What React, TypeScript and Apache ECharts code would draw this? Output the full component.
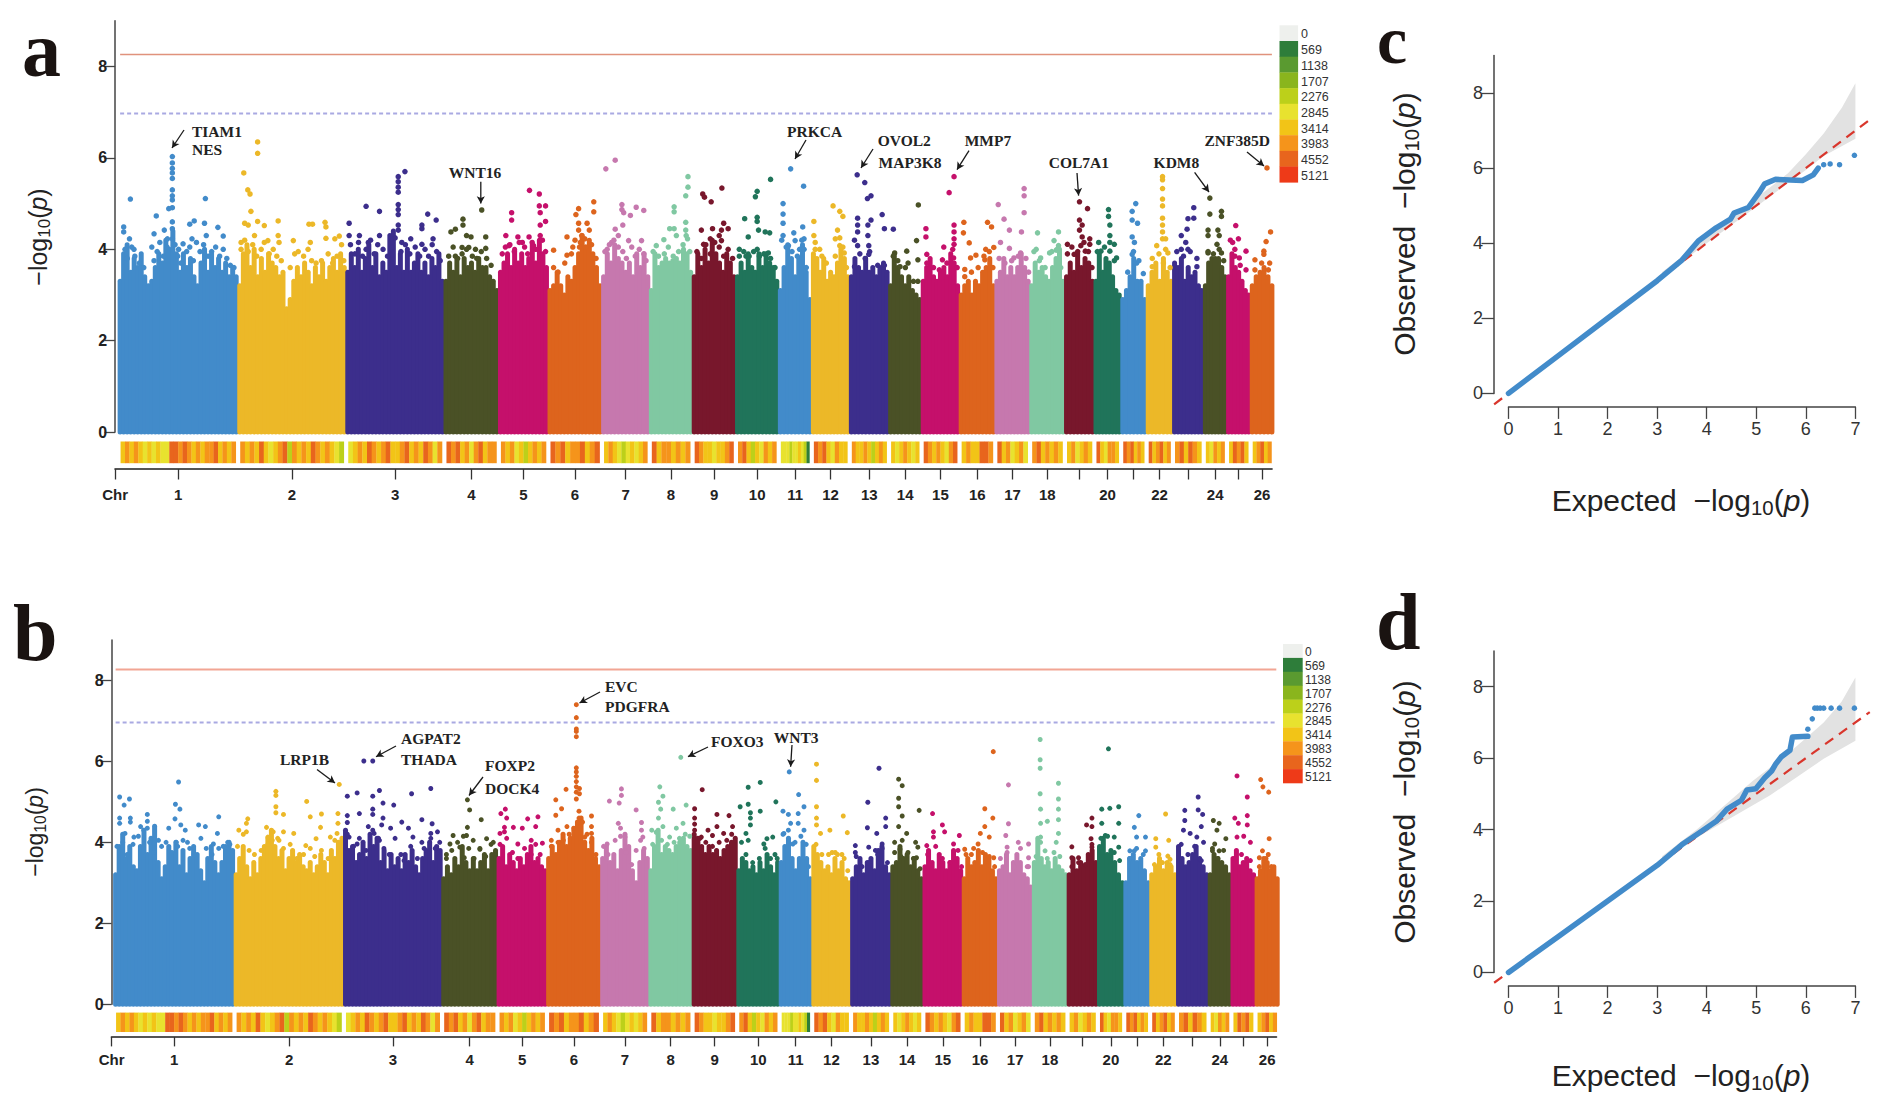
import React, { useEffect, useRef } from "react";
import * as echarts from "echarts";

// chromosome names and colours, the palette repeats every ten chromosomes
const chromLabels = ["1","2","3","4","5","6","7","8","9","10","11","12","13","14","15","16","17","18","19","20","21","22","23","24","25","26"];
const hiddenChromLabels = ["19", "21", "23", "25"];
const chromPalette = ["#428bca","#ecb828","#3c2e8c","#4a5126","#c5106b","#dd641d","#c678ae","#80c8a2","#78172c","#20745a"];

// genome axis, estimated chromosome lengths
const chromLengthsA = [268,242,220,122,111,120,107,96,97,96,74,85,88,73,85,80,78,78,66,60,57,59,69,52,53,52];
const chromLengthsB = [270,245,220,124,111,121,108,97,100,95,73,87,90,72,88,79,78,78,68,59,58,60,71,51,54,53];
const genomeStartA = 265;
const genomeStartB = 255;
const laterChromShift = 1456; // point positions of chr 9+ are kept relative to this

const yTicks = [0, 2, 4, 6, 8];
const thresholdsA = { strict: 8.26, suggestive: 6.97 };
const thresholdsB = { strict: 8.27, suggestive: 6.96 };

// top of the dense band of every chromosome, evenly spaced along it
const denseTopA = [
  [3.3,3.9,4.1,3.5,3.8,3.6,3.9,3.4,3.2,3.3,3.6,3.9,3.7,4.2,4.0,4.4,3.9,3.5,3.9,3.6,3.8,3.4,3.2,3.7,4.0,3.5,3.9,3.6,3.8,3.5,3.7,3.4,3.6,3.4],
  [3.2,3.9,4.1,3.6,4.0,3.4,3.8,3.5,3.9,3.7,3.6,3.4,3.5,2.7,2.9,3.3,3.6,3.4,3.7,3.5,3.2,3.6,3.4,3.7,3.3,3.6,3.8,3.5,3.9,3.6],
  [3.5,3.9,3.6,4.0,3.5,3.8,4.1,3.6,3.9,3.4,3.7,3.5,4.3,4.4,3.6,3.9,3.5,4.0,3.5,3.7,3.9,3.5,3.7,3.4,3.8,3.6,3.9,3.3],
  [3.3,3.7,3.5,3.8,3.4,3.8,3.6,3.7,3.5,3.8,3.6,3.6,3.4,3.3,3.1],
  [3.5,3.7,3.9,3.6,4.0,3.7,3.9,3.6,3.8,4.1,3.7,4.2,3.9,3.6],
  [3.1,3.2,3.5,3.2,3.0,3.4,3.3,3.6,3.9,4.3,4.0,4.2,3.9,3.6,3.2],
  [3.4,3.9,3.7,4.1,3.8,3.7,3.5,3.7,3.4,3.9,3.6,3.9,3.4],
  [3.1,3.9,3.6,3.7,3.8,3.7,3.75,3.8,3.7,4.0,3.9,3.5],
  [3.4,3.9,3.6,4.0,3.7,4.2,3.9,3.7,3.5,3.9,3.7,3.4],
  [3.4,3.7,3.5,3.9,3.6,3.5,3.9,3.6,3.9,3.7,3.6,3.3],
  [3.1,3.6,4.1,3.8,3.4,3.8,4.1,3.5,2.9],
  [3.9,3.8,3.5,3.8,3.3,3.5,3.4,3.7,4.0,3.8,3.4],
  [3.4,3.8,3.6,3.5,3.8,3.5,3.6,3.4,3.6,3.7,3.5],
  [3.2,3.9,3.6,3.4,3.2,3.4,3.1,3.0,2.9],
  [3.3,3.6,3.8,3.4,3.3,3.5,3.6,3.4,3.9,3.7,3.2],
  [3.0,3.2,3.3,3.0,3.3,3.2,3.5,3.6,3.8,3.2],
  [3.3,3.5,3.8,3.4,3.6,3.4,3.6,3.9,3.6,3.3],
  [3.2,3.7,3.5,3.6,3.4,3.3,3.6,3.8,4.0,3.3],
  [3.4,3.7,3.5,3.9,3.6,3.8,3.7,3.3],
  [3.3,3.9,3.5,3.8,3.7,3.4,3.1,3.0],
  [2.9,3.1,3.4,3.8,3.3,3.3,2.9],
  [3.2,3.5,3.7,3.3,3.8,3.5,3.3],
  [3.7,3.6,3.8,3.3,3.6,3.4,3.5,3.2,3.1],
  [3.2,3.7,3.8,3.8,3.8,3.6,3.4],
  [3.4,3.9,3.6,3.5,3.3,3.1,3.0],
  [3.2,3.4,3.5,3.6,3.4,3.2],
];
const denseTopB = [
  [3.2,3.9,4.2,3.6,3.9,3.4,3.3,3.9,4.3,3.7,4.1,4.4,3.5,3.1,3.4,3.9,3.7,4.0,3.4,3.8,3.2,3.6,3.9,3.7,3.3,3.0,3.6,3.9,3.5,3.2,3.5,3.9,4.0,3.8],
  [3.2,3.6,3.9,3.4,3.1,3.5,3.2,3.6,3.9,4.1,4.3,3.9,3.6,3.8,3.3,3.6,3.8,3.5,3.7,3.4,3.3,3.5,3.2,3.4,3.7,3.5,3.2,3.8,3.6,4.0,4.1],
  [4.3,3.8,3.9,3.5,3.7,4.0,3.6,4.2,3.9,4.1,3.5,3.8,3.3,3.7,3.4,3.6,3.3,3.7,3.5,3.8,3.4,3.2,3.6,3.8,4.0,3.5,3.9,3.8],
  [3.1,3.4,3.2,3.6,3.4,3.9,3.5,3.3,3.6,3.3,3.5,3.7,3.3,3.7,3.8],
  [3.6,3.9,3.4,3.7,3.5,3.3,3.6,3.4,3.7,3.9,3.5,3.6,3.4,3.3],
  [3.6,3.9,3.7,4.0,4.2,3.9,4.1,4.3,4.5,4.6,4.0,3.8,4.1,3.6,3.4],
  [3.6,3.9,3.5,3.7,3.3,3.8,4.2,3.9,3.3,3.0,3.5,3.8,3.6],
  [3.3,3.9,4.3,3.7,3.9,3.8,3.7,3.9,4.0,4.1,3.9,3.8],
  [4.2,4.1,3.9,3.7,3.9,3.7,3.8,3.6,3.8,3.9,4.0,4.1],
  [3.3,3.6,3.5,3.3,3.4,3.2,3.5,3.3,3.7,3.4,3.2,3.5],
  [3.5,3.9,4.1,3.6,3.3,3.6,4.0,3.6,3.1],
  [3.9,3.7,3.5,3.3,3.4,3.2,3.6,3.3,3.5,3.1,3.0],
  [3.1,3.4,3.6,3.2,3.5,3.6,3.3,3.8,3.9,3.4,3.2],
  [3.4,3.5,3.9,3.6,3.7,3.4,3.6,3.3,3.1],
  [3.4,3.8,3.5,3.3,3.7,3.5,3.3,3.5,3.8,3.6,3.3],
  [3.1,3.6,3.4,3.5,3.8,3.4,3.7,3.6,3.3,3.1],
  [3.3,3.4,3.7,3.2,3.5,3.7,3.5,3.2,3.1,2.9],
  [3.5,4.1,3.6,3.4,3.5,3.3,3.6,3.4,3.3,3.2],
  [3.2,3.6,3.3,3.5,3.4,3.7,3.8,3.5],
  [3.9,4.1,3.7,3.8,3.5,3.2,3.0],
  [3.0,3.6,3.7,3.5,3.6,3.3,3.0],
  [3.2,3.4,3.6,3.3,3.5,3.4,3.2],
  [3.9,3.6,3.4,3.5,3.7,3.9,3.6,3.4,3.2],
  [3.2,3.7,3.6,3.5,3.4,3.2],
  [3.6,3.8,3.4,3.5,3.6,3.3,3.2],
  [3.1,3.3,3.6,3.5,3.3,3.4,3.1],
];

// single SNPs above the dense band, flat position,value lists per chromosome
const peaksA = [
  [292,5.1,277,4.49,277,4.38,290,4.23,300,4.0,350,4.73,345,4.34,368,4.42,375,4.23,386,6.03,386,5.89,386,5.77,386,5.67,386,5.55,386,5.3,386,5.17,386,5.08,386,4.91,378,4.89,386,4.6,386,4.45,386,4.23,425,4.55,435,4.62,460,5.11,458,4.57,488,4.48,462,4.3,500,4.29,430,4.23,440,4.15,400,4.0],
  [577,6.35,577,6.1,546,5.67,555,5.3,560,5.21,562,4.83,548,4.57,556,4.53,577,4.61,592,4.52,623,4.62,692,4.55,700,4.55,728,4.59,730,4.49,623,4.3,600,4.19,570,4.3,657,4.19,695,4.15,760,4.29,730,4.24,750,4.23,540,4.15,625,4.15],
  [782,4.57,820,4.94,850,4.83,892,5.59,892,5.48,892,5.36,892,5.25,892,4.98,892,4.87,892,4.76,892,4.53,892,4.42,907,5.7,958,4.77,977,4.64,945,4.53,945,4.45,782,4.3,805,4.3,850,4.3,920,4.23,970,4.23,900,4.15,825,4.15,945,4.11],
  [1037,4.66,1010,4.38,1020,4.44,1037,4.53,1045,4.3,1055,4.27,1088,4.27,1079,4.86,1035,4.04,1065,4.0,1088,4.02,1050,4.04,1020,3.85],
  [1186,5.29,1208,5.21,1146,4.8,1146,4.64,1208,4.95,1222,4.95,1210,4.8,1222,4.61,1210,4.53,1133,4.3,1160,4.27,1185,4.27,1210,4.3,1170,4.15,1140,4.08,1195,4.08],
  [1330,5.04,1296,4.89,1330,4.82,1290,4.76,1296,4.57,1315,4.57,1270,4.27,1240,3.98,1270,3.87,1296,4.42,1320,4.42,1310,4.23,1300,4.15],
  [1378,5.95,1357,5.76,1393,4.98,1393,4.87,1425,4.92,1442,4.85,1412,4.74,1397,4.8,1378,4.44,1395,4.53,1385,4.3,1408,4.19,1437,4.19,1360,4.0,1370,4.15],
  [1541,5.59,1541,5.36,1536,5.17,1510,4.93,1510,4.82,1500,4.45,1510,4.45,1536,4.59,1536,4.42,1487,4.21,1515,4.3,1470,4.08,1540,4.23],
  [118,5.21,122,5.14,137,5.04,161,5.34,165,4.57,175,4.45,115,4.42,140,4.45,160,4.42,155,4.3,135,4.23,160,4.19,120,4.11],
  [270,5.53,240,5.27,236,5.15,240,4.7,212,4.67,240,4.61,243,4.42,258,4.38,268,4.36,220,4.27,200,4.0,240,4.0,265,3.92,215,3.85],
  [315,5.76,344,5.38,298,5.0,298,4.77,298,4.57,342,4.49,322,4.36,298,4.3,345,4.23,325,4.19,310,4.08,335,4.0],
  [410,4.95,425,4.83,432,4.72,367,4.61,420,4.42,367,4.3,415,4.23,370,4.15,380,4.0,425,4.08,435,3.92],
  [464,5.63,481,5.46,495,5.17,487,5.11,465,4.68,495,4.64,520,4.76,525,4.45,545,4.44,465,4.53,465,4.38,488,4.53,488,4.3,465,4.08,490,4.08,490,3.89,458,3.62],
  [601,4.97,597,4.19,600,3.77,575,3.96,548,3.92,560,3.62,578,3.7],
  [681,5.59,670,5.24,618,4.45,618,4.27,681,4.53,681,4.38,681,4.23,681,4.11,658,4.05,620,3.89,680,3.81,655,3.77],
  [703,4.59,756,4.59,765,4.49,702,4.36,715,4.14,752,4.0,770,4.04,730,3.87,718,3.81,705,3.56,750,3.77],
  [780,4.98,838,5.33,838,5.17,838,4.8,793,4.66,805,4.42,785,4.15,805,4.02,832,4.38,830,3.92,815,3.81],
  [868,4.36,915,4.38,905,4.19,865,4.0,895,3.92,915,4.08,875,3.81,910,3.98],
  [962,5.04,980,4.89,962,4.64,968,4.53,962,4.42,968,4.27,985,4.23,935,4.11,965,4.08,985,4.11,950,3.89,975,3.96],
  [1027,4.87,1027,4.72,1030,4.53,1030,4.3,1005,4.15,1040,4.11,1030,3.96,1045,3.81,1010,3.96],
  [1088,5.0,1080,4.83,1080,4.64,1092,4.57,1080,4.27,1085,4.15,1080,3.89,1090,3.7,1105,3.47],
  [1148,5.59,1148,5.52,1148,5.33,1148,5.1,1148,4.95,1148,4.68,1148,4.53,1148,4.38,1148,4.23,1155,4.23,1135,4.08,1160,3.92,1125,3.62,1150,3.7],
  [1218,4.91,1205,4.67,1218,4.68,1203,4.44,1190,4.3,1200,4.15,1190,4.0,1205,4.0,1225,3.62],
  [1254,5.12,1254,4.77,1280,4.83,1280,4.72,1250,4.42,1272,4.42,1250,4.3,1275,4.3,1270,4.11,1250,3.92,1280,3.92],
  [1312,4.52,1318,4.23,1305,4.15,1310,4.0,1335,3.96,1320,3.81],
  [1382,5.78,1390,4.38,1380,4.17,1375,3.96,1355,3.77,1388,3.7,1375,3.89],
];
const peaksB = [
  [400,5.49,268,5.12,290,5.07,278,4.92,393,4.94,403,4.82,392,4.58,490,4.63,268,4.6,292,4.6,268,4.47,292,4.5,330,4.69,330,4.52,330,4.35,315,4.39,378,4.35,405,4.43,415,4.3,445,4.43,460,4.39,487,4.22,355,4.05,280,4.22,300,4.13,510,4.0,478,3.96,420,4.0,395,4.0],
  [618,5.26,618,5.16,687,5.01,760,5.43,618,4.88,618,4.73,635,4.69,720,4.7,757,4.71,695,4.63,757,4.47,555,4.58,552,4.47,718,4.37,535,4.3,552,4.26,597,4.37,612,4.26,635,4.26,658,4.22,740,4.13,708,4.09,600,4.13,625,4.05,755,4.22,685,3.92],
  [815,6.01,835,6.01,778,5.14,800,5.22,850,5.28,835,5.14,922,5.2,965,5.33,858,4.97,882,4.92,835,4.82,835,4.69,778,4.66,805,4.71,778,4.49,858,4.6,945,4.56,968,4.46,900,4.5,855,4.43,825,4.39,838,4.22,875,4.35,915,4.35,980,4.26,965,4.22,782,4.13,925,4.13,850,4.05,800,3.96,945,4.0],
  [1047,5.05,1052,4.8,1078,4.56,1047,4.37,1015,4.17,1045,4.17,1008,3.96,1060,4.05,1090,4.09,1105,4.0,1030,3.88,1075,3.83,1000,3.7,1040,3.62],
  [1132,4.82,1122,4.71,1135,4.6,1205,4.63,1182,4.58,1150,4.37,1170,4.35,1130,4.37,1200,4.39,1120,4.22,1130,4.26,1215,3.98,1160,3.96,1190,4.05],
  [1291,7.4,1291,7.08,1291,6.8,1291,6.74,1291,6.61,1291,5.84,1291,5.74,1291,5.63,1291,5.5,1291,5.37,1291,5.24,1291,5.07,1268,5.31,1245,5.05,1298,5.33,1298,5.2,1258,4.83,1245,4.67,1325,4.65,1297,4.77,1297,4.6,1325,4.39,1270,4.39,1250,4.3,1325,4.22,1235,4.05,1300,4.39,1310,4.13],
  [1392,5.32,1365,5.02,1387,4.97,1392,5.16,1425,4.8,1385,4.47,1437,4.49,1437,4.3,1390,4.35,1400,4.13,1360,3.96,1440,4.13],
  [1525,6.1,1478,5.37,1485,5.14,1475,4.99,1480,4.82,1508,4.82,1537,4.92,1475,4.6,1485,4.39,1460,4.3,1515,4.35,1500,4.13,1530,4.47],
  [117,5.3,100,4.83,100,4.6,100,4.45,150,4.69,177,4.66,130,4.3,150,4.39,185,4.39,115,4.13,165,4.22,140,4.17],
  [247,5.48,220,5.36,282,5.0,202,4.88,220,4.94,225,4.73,247,4.77,225,4.6,225,4.43,215,4.22,262,4.09,275,4.13,255,3.96,220,4.05,280,3.7],
  [312,5.74,333,5.18,298,4.77,345,4.88,310,4.69,332,4.71,315,4.47,332,4.47,345,4.3,300,4.22,320,3.96],
  [373,5.93,373,5.53,373,4.88,373,4.6,433,4.65,373,4.43,403,4.3,442,4.24,382,4.22,415,3.75,430,3.7,400,3.7],
  [513,5.83,488,4.99,528,4.6,487,4.36,528,4.39,508,4.22,460,3.92,490,3.88,520,3.96,460,3.75,510,3.7],
  [557,5.56,565,5.4,557,5.09,557,4.88,603,4.79,565,4.65,557,4.39,548,4.0,565,4.05,595,4.0,600,3.88,560,3.83,597,3.62,575,4.22],
  [633,4.71,655,4.43,693,4.17,635,4.26,635,4.13,660,4.26,680,3.96,620,3.92],
  [769,6.24,750,4.83,768,4.6,750,4.39,740,4.22,705,3.83,735,3.96,760,4.13,770,3.62,720,3.7],
  [803,5.42,803,4.46,797,4.17,825,4.0,848,3.96,800,3.88,848,3.62,848,3.4],
  [874,6.54,874,6.04,874,5.83,915,5.46,874,5.2,915,5.07,875,4.82,915,4.82,890,4.52,915,4.56,875,4.47,915,4.22,875,4.13,910,4.0,885,3.79],
  [945,3.89,990,4.6,978,4.43,990,4.39,988,4.09,990,3.88,960,3.62,945,3.62,985,3.62],
  [1027,6.31,1012,4.82,1030,4.84,1050,4.88,1012,4.47,1050,4.47,1020,4.17,1040,4.13,1050,3.88,1010,3.88],
  [1095,4.66,1085,4.37,1110,4.13,1090,4.13,1085,3.79,1110,3.79,1075,3.79],
  [1155,4.7,1133,4.09,1162,4.05,1133,3.88,1140,3.7,1160,3.66,1165,3.58],
  [1228,5.12,1198,4.79,1228,4.8,1238,4.69,1198,4.54,1235,4.39,1210,4.22,1195,4.3,1225,4.13,1240,4.0],
  [1262,4.54,1275,4.47,1270,4.3,1290,4.09,1265,3.96,1260,3.79,1275,3.79],
  [1315,5.64,1338,5.12,1310,4.6,1318,4.47,1338,4.66,1338,4.43,1315,4.13,1330,4.15,1345,4.0],
  [1368,5.55,1373,5.37,1386,5.24,1387,4.09,1372,3.79,1385,3.7,1365,3.62],
];

// thick cloud of SNPs just over the dense band, same layout as the peak lists
const cloudA = [
  [280,4.0,285,3.8,295,4.05,302,3.85,312,3.7,322,3.6,340,4.05,352,3.95,358,4.15,366,3.85,374,4.05,392,4.1,398,3.85,410,4.12,418,3.95,425,4.05,433,3.75,448,3.95,456,4.1,466,3.85,474,3.95,483,4.05,492,3.85,500,4.0,508,3.8,516,3.65,524,3.6,345,3.75,405,3.7,455,3.7],
  [540,4.0,548,4.2,556,3.95,566,4.1,575,3.85,585,4.0,592,4.15,603,3.9,612,4.0,620,3.85,630,3.75,660,3.9,668,3.95,680,3.85,690,4.0,698,3.75,708,3.7,720,3.75,735,3.9,745,3.7,755,3.85,765,4.1,770,3.75,650,3.6],
  [785,4.1,795,3.9,803,4.15,812,3.85,820,4.0,830,4.2,838,3.9,846,4.1,858,4.0,868,3.85,878,4.05,885,4.25,898,3.95,908,4.1,918,3.9,930,4.05,940,3.85,952,4.0,960,3.85,968,4.1,978,3.95,986,3.75],
  [1005,3.85,1015,4.05,1025,3.8,1035,3.9,1045,4.0,1058,3.85,1068,3.8,1078,3.95,1090,3.8,1100,3.65],
  [1125,3.9,1132,4.05,1142,4.1,1152,3.95,1163,4.15,1175,4.05,1182,3.9,1192,4.15,1200,4.0,1215,4.2,1222,3.95],
  [1240,3.6,1250,3.5,1265,3.7,1280,3.9,1288,4.2,1303,4.3,1312,4.05,1325,4.1,1335,3.8,1283,4.05,1298,4.05],
  [1355,3.95,1365,4.1,1375,4.2,1385,4.05,1395,3.95,1403,3.8,1415,4.05,1423,3.85,1432,4.0,1442,3.9,1447,3.75],
  [1463,3.95,1475,3.85,1488,3.9,1497,4.05,1508,3.85,1520,3.95,1530,4.1,1537,4.3,1545,3.95],
  [105,3.95,115,3.8,125,4.1,135,3.9,145,4.15,155,4.05,165,3.85,175,4.0,185,3.8],
  [200,3.85,210,3.95,222,3.85,232,3.95,245,3.85,255,3.9,270,3.8,280,3.6],
  [295,4.2,305,4.05,318,3.95,330,3.85,340,4.2,345,4.0,350,3.6],
  [370,4.0,385,3.85,395,3.7,415,3.85,425,4.25,432,4.05,440,3.6],
  [458,4.2,470,3.9,482,3.8,492,3.95,510,3.65,525,3.65],
  [545,3.85,555,3.75,572,3.6,590,3.3,600,3.3],
  [620,3.7,635,3.6,648,3.55,665,3.7,678,4.0,688,3.6],
  [705,3.4,720,3.5,735,3.6,748,3.85,760,3.95,768,3.6],
  [782,3.8,795,3.7,810,3.75,825,3.85,842,3.8,848,3.5],
  [860,3.95,872,3.75,885,3.6,900,3.95,912,4.0,920,3.6],
  [935,3.9,945,4.05,958,3.95,972,4.15,982,3.95,990,3.6],
  [1002,3.95,1018,4.05,1030,4.15,1040,3.75],
  [1070,3.5,1083,3.95,1095,3.75],
  [1125,3.8,1140,3.9,1155,4.0,1165,3.6],
  [1180,3.95,1195,3.85,1210,3.95,1225,3.8],
  [1250,3.95,1262,3.9,1275,4.0,1285,3.75],
  [1300,4.2,1310,3.85,1322,3.65,1335,3.55],
  [1355,3.55,1370,3.7,1385,3.55],
];
const cloudB = [
  [262,3.9,275,4.0,285,3.7,298,3.95,310,4.15,322,4.3,335,4.0,345,3.75,362,3.9,372,4.0,385,3.75,398,3.9,410,4.05,425,3.85,435,3.7,450,4.1,462,3.85,475,3.7,490,3.85,500,3.9,515,3.95],
  [532,3.9,545,4.2,558,3.8,570,3.7,585,3.8,600,3.95,610,4.05,622,4.1,635,3.85,650,3.95,665,3.6,680,3.7,695,3.85,705,3.65,720,3.8,735,3.6,750,4.05,760,3.75],
  [778,4.2,792,3.9,805,4.1,820,3.8,835,4.3,848,4.1,860,3.85,872,3.7,885,4.1,898,3.7,905,3.55,920,3.9,935,3.6,950,3.85,965,4.1,975,3.85,985,4.0],
  [1000,3.6,1012,3.8,1025,4.0,1038,4.15,1050,3.85,1062,3.6,1075,3.85,1088,3.65,1100,3.95,1108,3.7],
  [1120,3.95,1135,4.1,1148,3.75,1160,3.6,1175,3.85,1190,3.7,1200,3.95,1210,3.7],
  [1235,3.9,1250,4.0,1262,4.05,1275,4.2,1285,4.35,1305,4.5,1315,4.2,1325,4.0,1335,3.7],
  [1352,3.9,1362,3.7,1378,4.05,1390,4.15,1402,3.75,1415,3.45,1425,3.8,1435,4.05,1443,3.85],
  [1462,3.95,1470,4.25,1482,4.05,1495,3.95,1510,4.0,1522,4.1,1535,4.2,1545,4.15],
  [100,4.3,112,4.1,125,4.0,140,3.9,155,4.0,172,4.05,183,4.2],
  [205,4.0,215,3.7,230,3.5,245,3.6,258,3.85,270,3.6,285,3.6],
  [298,4.2,310,4.3,325,4.0,338,4.15,350,3.95,355,3.4],
  [372,3.95,385,3.7,408,3.75,420,3.7,435,3.6,443,3.3],
  [462,3.65,475,3.4,490,3.5,505,3.8,520,3.85,532,3.5],
  [548,3.75,562,3.65,578,3.75,590,3.6,605,3.35],
  [622,3.7,640,3.9,655,3.6,672,3.5,690,3.8,698,3.4],
  [708,3.7,725,3.85,745,3.75,760,3.65,772,3.4],
  [785,3.6,800,3.75,815,3.4,830,3.85,845,3.4],
  [865,3.65,875,4.0,890,3.6,905,3.75,918,3.65],
  [945,3.4,960,3.5,975,3.45,990,3.95],
  [1010,4.1,1025,4.15,1040,3.75,1052,3.55],
  [1075,3.6,1090,3.85,1105,3.7],
  [1130,3.45,1148,3.5,1165,3.45],
  [1190,3.95,1205,3.7,1220,3.9,1235,3.55],
  [1260,3.85,1272,3.6,1285,3.8],
  [1310,3.6,1325,3.7,1345,3.55],
  [1365,3.4,1380,3.6,1392,3.4],
];

// SNP density strip, hundreds of SNPs per window
const densityByChrom = [
  [34,40,34,40,34,28,34,28,34,30,28,46,46,40,46,40,34,40,34,40,40,46,34,40,34,40],
  [40,34,40,34,46,34,28,34,40,46,22,40,34,40,34,46,40,34,40,34,28,24],
  [28,34,40,34,46,40,34,40,46,34,34,40,46,34,40,34,46,40,28,40],
  [46,40,46,34,40,28,40,46,34,40,40],
  [40,34,40,28,34,24,34,40,34,40],
  [46,40,46,34,40,40,46,34,40,46],
  [34,40,34,28,24,28,34,28,34,40],
  [46,34,40,40,34,40,34,40],
  [46,40,34,34,28,34,34,40,46],
  [40,46,34,24,34,28,40,34,40],
  [28,26,28,24,26,28,34,28,22,8],
  [46,40,46,34,28,40,34,34],
  [40,34,34,40,34,24,34,40,34],
  [34,28,34,40,34,28,34],
  [46,40,34,40,34,28,40,46],
  [34,40,34,34,46,46,40],
  [46,34,40,28,34,40,28],
  [40,46,34,40,34,40,34],
  [34,40,28,34,40,34],
  [46,34,28,40,40,34],
  [46,40,46,34,40,34],
  [46,34,40,46,34,40],
  [40,46,34,46,40,34],
  [34,28,40,34,40],
  [34,46,40,46,34],
  [34,40,46,34,40],
];
const densityTicks = [0,569,1138,1707,2276,2845,3414,3983,4552,5121];
const densityColors = ["#eef0ed","#2e7d3a","#5a9a30","#8ab51d","#bcd01a","#e8e22f","#f2c417","#f5941b","#e8651d","#ee3a18"];

// QQ plots
const qqExpectedC = [0,1,2,3,3.5,3.83,4.19,4.48,4.55,4.84,5.06,5.17,5.39,5.93,6.15,6.25];
const qqObservedC = [0,1,2,3,3.55,4.06,4.41,4.64,4.8,4.95,5.35,5.58,5.7,5.67,5.82,6.0];
const qqTailC = [[6.36,6.09],[6.49,6.11],[6.68,6.09],[6.98,6.34]];
const qqBandUpperC = [[3.1,3.23],[3.83,3.97],[4.55,4.71],[4.92,5.12],[5.28,5.49],[5.64,5.86],[6.0,6.37],[6.36,6.92],[6.73,7.61],[7.0,8.26]];
const qqBandLowerC = [[3.1,3.1],[3.83,3.83],[4.92,4.89],[5.64,5.6],[6.0,5.95],[6.36,6.32],[7.0,6.78]];
const qqExpectedD = [0,1,2,3,3.5,3.83,4.19,4.41,4.7,4.81,4.99,5.17,5.31,5.39,5.5,5.68,5.73,6.04];
const qqObservedD = [0,1,2,3,3.58,3.89,4.23,4.57,4.82,5.11,5.14,5.45,5.64,5.83,6.03,6.22,6.59,6.61];
const qqTailD = [[6.04,6.81],[6.13,7.1],[6.18,7.4],[6.23,7.4],[6.29,7.4],[6.36,7.4],[6.51,7.4],[6.68,7.4],[6.98,7.4]];
const qqBandUpperD = [[3.1,3.25],[3.83,4.04],[4.92,5.35],[5.28,5.74],[5.64,6.13],[6.0,6.56],[6.36,7.0],[6.72,7.58],[7.0,8.26]];
const qqBandLowerD = [[3.1,3.1],[3.83,3.8],[5.28,4.96],[6.0,5.64],[6.36,5.98],[7.0,6.49]];
const qqRefLine = [[-0.29,-0.29],[7.29,7.29]];

// gene labels [text, x, y] and arrows [x1, y1, x2, y2], positions on the page
const geneLabels: [string, number, number][] = [
  ["TIAM1",192,131.6],["NES",192,149.6],["WNT16",448.7,172],["PRKCA",787,131.6],["OVOL2",877.7,140],["MAP3K8",878.6,162.7],
  ["MMP7",964.7,140],["COL7A1",1048.7,162.7],["KDM8",1153.6,162.7],["ZNF385D",1204.5,140],
  ["EVC",605,686.4],["PDGFRA",605,706.5],["AGPAT2",401,738],["THADA",401,759.8],["LRP1B",280,759.8],["FOXP2",485,765],["DOCK4",485,788.5],
  ["FOXO3",711,741],["WNT3",773.7,737.6],
];
const geneArrows = [
  [184,130,172,148],[480.8,181.8,480.8,203.6],[806,140,795,159],[873,149,861,168],[969,150.6,957,169.7],[1077,173,1078.6,195.6],[1194.6,172.4,1209,192],[1247,152,1264,166],
  [600,692,579.5,703],[396,746,376,756.7],[317,769.5,335,783],[483,777,469,795.5],[708,747,688,756.7],[792,745,790.6,766.7],
];

const SANS = "Liberation Sans";
const SERIF = "Liberation Serif";

const pairs = (flat: number[], shift: number) => {
  const out: number[][] = [];
  for (let i = 0; i < flat.length; i += 2) out.push([flat[i] + shift, flat[i + 1]]);
  return out;
};

// closest legend step for a window
const densityColor = (hundreds: number) => {
  const v = hundreds * 100;
  let idx = 0;
  densityTicks.forEach((t, i) => {
    if (Math.abs(v - t) < Math.abs(v - densityTicks[idx])) idx = i;
  });
  return densityColors[idx];
};

const chromStarts = (start: number, lengths: number[]) => {
  const out: number[] = [];
  let pos = start;
  lengths.forEach((l) => {
    out.push(pos);
    pos += l;
  });
  return out;
};

// dense band, single points and the strip of one Manhattan panel
const manhattanSeries = (
  axisIdx: number,
  stripIdx: number,
  start: number,
  lengths: number[],
  tops: number[][],
  peaks: number[][],
  cloud: number[][],
  thresholds: { strict: number; suggestive: number },
  axisEnd: number,
  dotSize: number,
  strictColor: string,
  strictWidth: number
) => {
  const starts = chromStarts(start, lengths);
  const series: any[] = [
    {
      type: "line", xAxisIndex: axisIdx, yAxisIndex: axisIdx, symbol: "none", silent: true,
      data: [[start + 4, thresholds.strict], [axisEnd, thresholds.strict]],
      lineStyle: { color: strictColor, width: strictWidth },
    },
    {
      type: "line", xAxisIndex: axisIdx, yAxisIndex: axisIdx, symbol: "none", silent: true,
      data: [[start + 4, thresholds.suggestive], [axisEnd, thresholds.suggestive]],
      lineStyle: { color: "#a9a9e2", width: 2, type: [4, 3] },
    },
  ];
  lengths.forEach((len, i) => {
    const color = chromPalette[i % chromPalette.length];
    const top = tops[i];
    const inset = 4;
    const shift = i >= 8 ? laterChromShift : 0;
    series.push({
      type: "custom", xAxisIndex: axisIdx, yAxisIndex: axisIdx, clip: false, silent: true,
      encode: { x: 0, y: 1 },
      data: top.map((v, k) => [starts[i] + inset + (k * (len - 2 * inset)) / (top.length - 1), v]),
      renderItem: (_: any, api: any) => {
        const p0 = api.coord([api.value(0), 0]);
        const p1 = api.coord([api.value(0), api.value(1)]);
        return {
          type: "line",
          shape: { x1: p0[0], y1: p0[1], x2: p1[0], y2: p1[1] },
          style: { stroke: color, lineWidth: 5, lineCap: "round" },
        };
      },
    });
    series.push({
      type: "scatter", xAxisIndex: axisIdx, yAxisIndex: axisIdx, clip: false, silent: true,
      symbolSize: dotSize, itemStyle: { color, opacity: 1 },
      data: [...pairs(peaks[i], shift), ...pairs(cloud[i], shift)],
    });
    const windows = densityByChrom[i];
    const from = starts[i] + 5;
    const w = (len - 10) / windows.length;
    series.push({
      type: "custom", xAxisIndex: stripIdx, yAxisIndex: stripIdx, silent: true,
      encode: { x: [0, 1] },
      data: windows.map((d, k) => [from + k * w, from + (k + 1) * w, d]),
      renderItem: (_: any, api: any) => {
        const p0 = api.coord([api.value(0), 0]);
        const p1 = api.coord([api.value(1), 1]);
        return {
          type: "rect",
          shape: { x: p0[0], y: p1[1], width: p1[0] - p0[0] + 0.3, height: p0[1] - p1[1] },
          style: { fill: densityColor(api.value(2)) },
        };
      },
    });
  });
  return series;
};

const manhattanXAxis = (gridIndex: number, min: number, max: number, start: number, lengths: number[], offset: number, tickLen: number, margin: number) => {
  const starts = chromStarts(start, lengths);
  const mids = lengths.map((l, i) => starts[i] + l / 2);
  const labelAt = new Map<number, string>();
  labelAt.set(min, "Chr");
  mids.forEach((m, i) => labelAt.set(m, chromLabels[i]));
  return {
    type: "value", gridIndex, min, max, offset, position: "bottom", splitLine: { show: false },
    axisLine: { show: true, onZero: false, lineStyle: { color: "#555", width: 2 } },
    axisTick: { show: true, length: tickLen, customValues: [min, ...mids], lineStyle: { color: "#333", width: 1.3 } },
    axisLabel: {
      show: true, margin, hideOverlap: false, showMinLabel: true, showMaxLabel: true,
      customValues: [min, ...mids.filter((_, i) => !hiddenChromLabels.includes(chromLabels[i]))],
      formatter: (v: number) => labelAt.get(v) ?? "",
      fontFamily: SANS, fontWeight: "bold", fontSize: 15, color: "#222",
    },
  };
};

const tickYAxis = (gridIndex: number, fontSize: number, bold: boolean, offset: number, tickLen: number, margin: number) => ({
  type: "value", gridIndex, min: 0, max: 9, offset, position: "left", splitLine: { show: false },
  axisLine: { show: true, onZero: false, lineStyle: { color: "#444", width: 1.5 } },
  axisTick: { show: true, length: tickLen, customValues: yTicks, lineStyle: { color: "#444", width: 1.3 } },
  axisLabel: {
    show: true, margin, customValues: yTicks, fontFamily: SANS, fontSize,
    fontWeight: bold ? "bold" : "normal", color: bold ? "#222" : "#333",
  },
});

const qqXAxis = (gridIndex: number) => ({
  type: "value", gridIndex, min: 0, max: 7, interval: 1, offset: 13.5, position: "bottom", splitLine: { show: false },
  axisLine: { show: true, onZero: false, lineStyle: { color: "#444", width: 1.5 } },
  axisTick: { show: true, length: 12, lineStyle: { color: "#444", width: 1.3 } },
  axisLabel: { show: true, margin: 13, fontFamily: SANS, fontSize: 18, color: "#333" },
});

const hiddenAxis = (gridIndex: number, min: number, max: number) => ({ type: "value", gridIndex, min, max, show: false });

const qqSeries = (idx: number, ex: number[], ob: number[], tail: number[][], upper: number[][], lower: number[][]) => [
  {
    type: "custom", xAxisIndex: idx, yAxisIndex: idx, clip: false, silent: true, data: [[0, 0]],
    renderItem: (_: any, api: any) => ({
      type: "polygon",
      shape: { points: [...upper, ...[...lower].reverse()].map((p) => api.coord(p)) },
      style: { fill: "#e2e2e2" },
    }),
  },
  {
    // the reference line runs past both axis ends
    type: "custom", xAxisIndex: idx, yAxisIndex: idx, clip: false, silent: true, data: [[0, 0]], z: 3,
    renderItem: (_: any, api: any) => {
      const p0 = api.coord(qqRefLine[0]);
      const p1 = api.coord(qqRefLine[1]);
      return {
        type: "line",
        shape: { x1: p0[0], y1: p0[1], x2: p1[0], y2: p1[1] },
        style: { stroke: "#d9362c", lineWidth: 2.2, lineDash: [10, 7] },
      };
    },
  },
  {
    type: "line", xAxisIndex: idx, yAxisIndex: idx, clip: false, silent: true, symbol: "none", z: 4,
    data: ex.map((x, i) => [x, ob[i]]), lineStyle: { color: "#428bca", width: 5.5, cap: "round", join: "round" },
  },
  {
    type: "scatter", xAxisIndex: idx, yAxisIndex: idx, clip: false, silent: true, symbolSize: 5.5, z: 4,
    itemStyle: { color: "#428bca", opacity: 1 }, data: tail,
  },
];

const logText = (prefix: string) => `{n|${prefix}\u2212log}{s|10}{n|(}{i|p}{n|)}`;
const titleText = (prefix: string, x: number, y: number, size: number, rotation: number) => ({
  type: "text", x, y, rotation, silent: true,
  style: {
    text: logText(prefix), align: "center", verticalAlign: "middle",
    rich: {
      n: { fontFamily: SANS, fontSize: size, fill: "#222", lineHeight: size * 1.2, color: "#222" },
      i: { fontFamily: SANS, fontSize: size, fontStyle: "italic", fill: "#222", lineHeight: size * 1.2, color: "#222" },
      s: { fontFamily: SANS, fontSize: size * 0.68, fill: "#222", verticalAlign: "bottom", lineHeight: size * 0.9, color: "#222" },
    },
  },
});

const panelLetter = (text: string, x: number, y: number, fontSize: number) => ({
  type: "text", x, y, silent: true,
  style: { text, fontFamily: SERIF, fontWeight: "bold", fontSize, fill: "#1a1311", align: "left", verticalAlign: "bottom" },
});

const densityLegend = (x: number, y: number, w: number, h: number, labelX: number, labelDy: number, fontSize: number) =>
  densityTicks.flatMap((t, i) => [
    { type: "rect", silent: true, shape: { x, y: y + i * h, width: w, height: h + 0.3 }, style: { fill: densityColors[i] } },
    {
      type: "text", silent: true, x: labelX, y: y + i * h + h / 2 + labelDy,
      style: { text: String(t), fontFamily: SANS, fontSize, fill: "#333", align: "left", verticalAlign: "middle" },
    },
  ]);

const arrowElements = ([x1, y1, x2, y2]: number[]) => {
  const a = Math.atan2(y2 - y1, x2 - x1);
  const head = (d: number, spread: number) => [x2 - d * Math.cos(a + spread), y2 - d * Math.sin(a + spread)];
  return [
    { type: "line", silent: true, shape: { x1, y1, x2, y2 }, style: { stroke: "#1a1a1a", lineWidth: 1.3 } },
    {
      type: "polygon", silent: true,
      shape: { points: [[x2, y2], head(8.5, 0.5), head(5.5, 0), head(8.5, -0.5)] },
      style: { fill: "#1a1a1a" },
    },
  ];
};

const App: React.FC = () => {
  const chartRef = useRef<HTMLDivElement>(null);

  useEffect(() => {
    document.body.style.margin = "0";
    if (!chartRef.current) return;
    const chart = echarts.init(chartRef.current, null, { renderer: "svg" });

    const option = {
      animation: false,
      backgroundColor: "#fff",
      grid: [
        { left: 115.2, top: 20.8, width: 1156.7, height: 411.3 },
        { left: 115.2, top: 441.5, width: 1156.7, height: 21.7 },
        { left: 111.6, top: 639.9, width: 1164.7, height: 364.4 },
        { left: 111.6, top: 1012.6, width: 1164.7, height: 19.4 },
        { left: 1508.5, top: 55.4, width: 346.9, height: 338 },
        { left: 1508.5, top: 651, width: 346.9, height: 321.4 },
      ],
      xAxis: [
        manhattanXAxis(0, 258, 2849, genomeStartA, chromLengthsA, 37, 10.4, 18),
        hiddenAxis(1, 258, 2849),
        manhattanXAxis(2, 250, 2859, genomeStartB, chromLengthsB, 32.7, 9.4, 15),
        hiddenAxis(3, 250, 2859),
        qqXAxis(4),
        qqXAxis(5),
      ],
      yAxis: [
        tickYAxis(0, 16, true, 0, 10.7, 8),
        hiddenAxis(1, 0, 1),
        tickYAxis(2, 16, true, 0, 10.7, 8),
        hiddenAxis(3, 0, 1),
        tickYAxis(4, 18, false, 14.5, 12.5, 11),
        tickYAxis(5, 18, false, 14.5, 12.5, 11),
      ],
      series: [
        ...manhattanSeries(0, 1, genomeStartA, chromLengthsA, denseTopA, peaksA, cloudA, thresholdsA, 2849, 5.5, "#e0927c", 1.5),
        ...manhattanSeries(2, 3, genomeStartB, chromLengthsB, denseTopB, peaksB, cloudB, thresholdsB, 2859, 5, "#f2a594", 2),
        ...qqSeries(4, qqExpectedC, qqObservedC, qqTailC, qqBandUpperC, qqBandLowerC),
        ...qqSeries(5, qqExpectedD, qqObservedD, qqTailD, qqBandUpperD, qqBandLowerD),
      ],
      graphic: {
        elements: [
          panelLetter("a", 22, 88, 78),
          panelLetter("b", 13, 673, 80),
          panelLetter("c", 1377, 74, 68),
          panelLetter("d", 1376, 662, 80),
          titleText("", 38, 237, 25, Math.PI / 2),
          titleText("", 35, 832, 23, Math.PI / 2),
          titleText("Observed  ", 1404, 224, 30, Math.PI / 2),
          titleText("Observed  ", 1404, 812, 30, Math.PI / 2),
          titleText("Expected  ", 1681, 500, 30, 0),
          titleText("Expected  ", 1681, 1075, 30, 0),
          ...densityLegend(1279.5, 25.3, 18.6, 15.7, 1301, 1.3, 12.5),
          ...densityLegend(1283, 644, 19.7, 13.9, 1305, 1, 12),
          ...geneLabels.map(([text, x, y]) => ({
            type: "text", x, y, silent: true,
            style: { text, fontFamily: SERIF, fontWeight: "bold", fontSize: 15.5, fill: "#222", align: "left", verticalAlign: "middle" },
          })),
          ...geneArrows.flatMap(arrowElements),
        ],
      },
    };

    chart.setOption(option as any);
    return () => chart.dispose();
  }, []);

  return <div ref={chartRef} style={{ width: 1902, height: 1100 }} />;
};

export default App;
